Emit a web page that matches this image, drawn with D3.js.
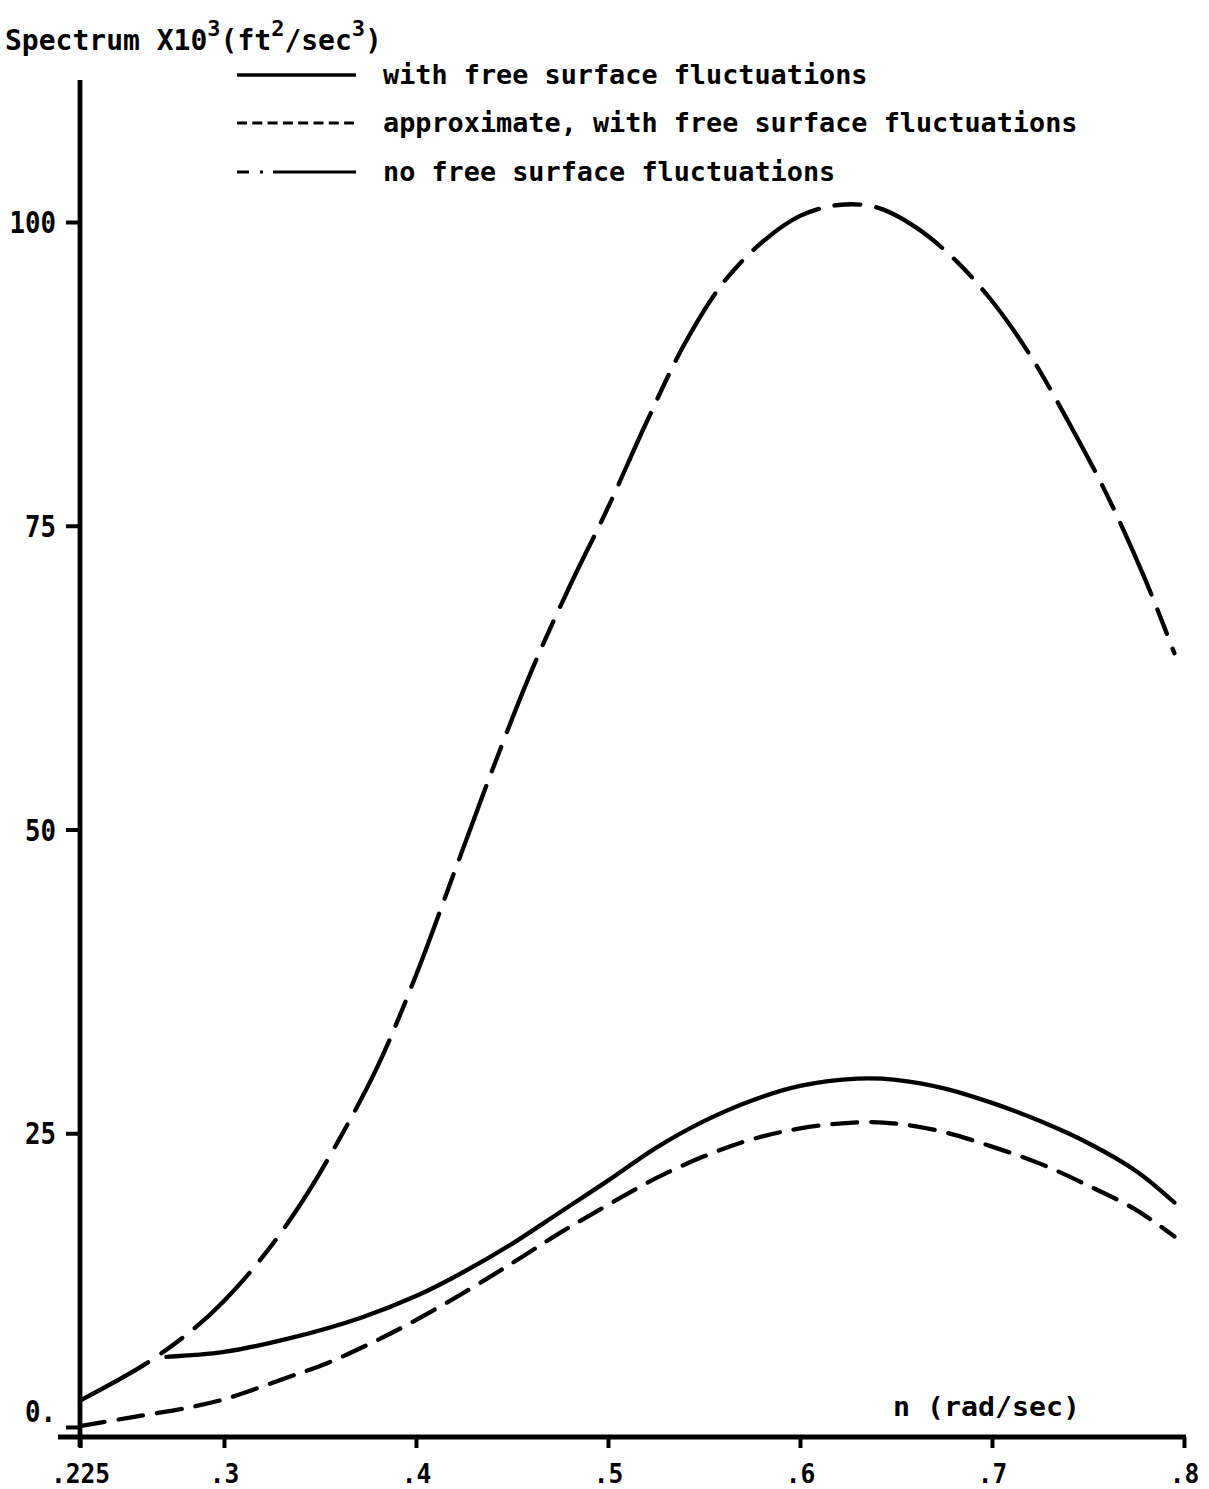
<!DOCTYPE html>
<html>
<head>
<meta charset="utf-8">
<script src="https://cdn.jsdelivr.net/npm/d3@7"></script>
<style>
  html, body { margin: 0; padding: 0; background: #fff; }
  svg { display: block; }
  text { font-family: "DejaVu Sans Mono", "Liberation Mono", monospace; font-weight: bold; fill: #000; }
</style>
</head>
<body>
<svg id="chart" width="1209" height="1489"></svg>
<script>
// Frequency axis ticks (rad/sec)
const xTicks = [0.225, 0.3, 0.4, 0.5, 0.6, 0.7, 0.8];
const xTickLabels = [".225", ".3", ".4", ".5", ".6", ".7", ".8"];
// Spectrum axis ticks (x 10^3 ft^2/sec^3)
const yTicks = [0, 25, 50, 75, 100];
const yTickLabels = ["0.", "25", "50", "75", "100"];

// Series: with free surface fluctuations
const withFreeN = [0.27, 0.30, 0.336, 0.371, 0.40, 0.425, 0.45, 0.475, 0.50, 0.525, 0.55, 0.575, 0.60, 0.63, 0.65, 0.675, 0.70, 0.725, 0.75, 0.775, 0.795];
const withFreeV = [6.6, 7.0, 8.2, 9.8, 11.6, 13.6, 15.9, 18.5, 21.1, 23.8, 26.0, 27.7, 28.9, 29.5, 29.4, 28.7, 27.5, 26.0, 24.2, 21.9, 19.3];

// Series: approximate, with free surface fluctuations
const approxN = [0.225, 0.251, 0.281, 0.302, 0.333, 0.354, 0.375, 0.395, 0.423, 0.45, 0.475, 0.50, 0.525, 0.55, 0.575, 0.60, 0.63, 0.65, 0.675, 0.70, 0.725, 0.75, 0.775, 0.795];
const approxV = [0.9, 1.6, 2.4, 3.2, 4.9, 6.1, 7.6, 9.2, 11.7, 14.3, 16.8, 19.1, 21.3, 23.1, 24.5, 25.4, 25.9, 25.8, 25.1, 23.9, 22.5, 20.7, 18.7, 16.5];

// Series: no free surface fluctuations
const noFreeN = [0.225, 0.26, 0.285, 0.30, 0.32, 0.34, 0.36, 0.38, 0.40, 0.42, 0.44, 0.46, 0.48, 0.50, 0.52, 0.54, 0.56, 0.58, 0.60, 0.62, 0.64, 0.66, 0.68, 0.70, 0.72, 0.74, 0.76, 0.78, 0.795];
const noFreeV = [3.0, 6.1, 9.0, 11.2, 14.8, 19.2, 24.5, 30.5, 38.0, 46.5, 55.0, 63.0, 70.0, 76.5, 83.5, 90.0, 95.0, 98.3, 100.5, 101.4, 101.2, 99.6, 97.0, 93.5, 89.0, 83.5, 77.5, 70.5, 64.5];

const legendLabels = [
  "with free surface fluctuations",
  "approximate, with free surface fluctuations",
  "no free surface fluctuations"
];

const svg = d3.select("#chart");

const x = d3.scaleLinear().domain([0.225, 0.8]).range([80, 1184]);
const y = d3.scaleLinear().domain([0, 100]).range([1437, 222]);

const ink = "#000";
const axisW = 4.8;
const lineW = 4.3;

// Axis lines
svg.append("line")
  .attr("x1", x(0.225)).attr("x2", x(0.225))
  .attr("y1", 80).attr("y2", y(0) + 10)
  .attr("stroke", ink).attr("stroke-width", axisW);
svg.append("line")
  .attr("x1", 58).attr("x2", x(0.8) + 2)
  .attr("y1", y(0)).attr("y2", y(0))
  .attr("stroke", ink).attr("stroke-width", axisW);

// Bottom axis
const xAxis = d3.axisBottom(x)
  .tickValues(xTicks)
  .tickFormat((d, i) => xTickLabels[i])
  .tickSize(11)
  .tickSizeOuter(0);
const gx = svg.append("g").attr("transform", `translate(0,${y(0)})`).call(xAxis);
gx.select(".domain").remove();
gx.selectAll(".tick line").attr("stroke", ink).attr("stroke-width", 4);
gx.selectAll(".tick text")
  .attr("y", 46).attr("dy", 0)
  .attr("font-size", 27)
  .attr("textLength", (d, i) => xTickLabels[i].length * 14.8)
  .attr("lengthAdjust", "spacingAndGlyphs")
  .style("font-family", '"DejaVu Sans Mono", monospace')
  .style("font-weight", "bold");

// Left axis
const yAxis = d3.axisLeft(y)
  .tickValues(yTicks)
  .tickFormat((d, i) => yTickLabels[i])
  .tickSize(14)
  .tickPadding(10)
  .tickSizeOuter(0);
const gy = svg.append("g").attr("transform", `translate(${x(0.225)},0)`).call(yAxis);
gy.select(".domain").remove();
gy.selectAll(".tick line").attr("stroke", ink).attr("stroke-width", 4);
gy.selectAll(".tick text")
  .attr("font-size", 31)
  .attr("dy", "0.34em")
  .attr("textLength", (d, i) => yTickLabels[i].length * 15.5)
  .attr("lengthAdjust", "spacingAndGlyphs")
  .style("font-family", '"DejaVu Sans Mono", monospace')
  .style("font-weight", "bold");
// the zero label sits above the baseline axis
gy.selectAll(".tick").filter(d => d === 0).select("text").attr("y", -26);
gy.selectAll(".tick").filter(d => d === 0).select("line").attr("transform", "translate(0,-10)");

// Curves
const line = d3.line()
  .x(d => x(d[0]))
  .y(d => y(d[1]))
  .curve(d3.curveCatmullRom.alpha(0.5));

const series = [
  { n: withFreeN, v: withFreeV, dash: null },
  { n: approxN, v: approxV, dash: "25,14" },
  { n: noFreeN, v: noFreeV, dash: "78,16,26,16" }
];

series.forEach(s => {
  const pts = s.n.map((n, i) => [n, s.v[i]]);
  svg.append("path")
    .datum(pts)
    .attr("d", line)
    .attr("fill", "none")
    .attr("stroke", ink)
    .attr("stroke-width", lineW)
    .attr("stroke-linecap", "round")
    .attr("stroke-dasharray", s.dash);
});

// Title with superscripts
const title = svg.append("text")
  .attr("x", 5).attr("y", 50)
  .attr("font-size", 28);
title.append("tspan").text("Spectrum X10");
title.append("tspan").attr("dy", -14).attr("font-size", 22).text("3");
title.append("tspan").attr("dy", 14).text("(ft");
title.append("tspan").attr("dy", -14).attr("font-size", 22).text("2");
title.append("tspan").attr("dy", 14).text("/sec");
title.append("tspan").attr("dy", -14).attr("font-size", 22).text("3");
title.append("tspan").attr("dy", 14).text(")");

// Legend
const legendRowsY = [75, 123, 172];
const lg = svg.append("g");
// solid sample
lg.append("line").attr("x1", 237).attr("x2", 356).attr("y1", legendRowsY[0]).attr("y2", legendRowsY[0])
  .attr("stroke", ink).attr("stroke-width", 3.5);
// short-dash sample
lg.append("line").attr("x1", 237).attr("x2", 356).attr("y1", legendRowsY[1]).attr("y2", legendRowsY[1])
  .attr("stroke", ink).attr("stroke-width", 3).attr("stroke-dasharray", "10,5.3");
// dash-dot-long sample
lg.append("line").attr("x1", 237).attr("x2", 356).attr("y1", legendRowsY[2]).attr("y2", legendRowsY[2])
  .attr("stroke", ink).attr("stroke-width", 3).attr("stroke-dasharray", "12,11,3,10,200");
legendLabels.forEach((t, i) => {
  lg.append("text")
    .attr("x", 383).attr("y", legendRowsY[i] + 9)
    .attr("font-size", 27)
    .attr("textLength", t.length * 16.15)
    .attr("lengthAdjust", "spacingAndGlyphs")
    .text(t);
});

// Frequency axis label
svg.append("text")
  .attr("x", 893).attr("y", 1416)
  .attr("font-size", 27)
  .attr("textLength", 11 * 17)
  .attr("lengthAdjust", "spacingAndGlyphs")
  .text("n (rad/sec)");
</script>
</body>
</html>
